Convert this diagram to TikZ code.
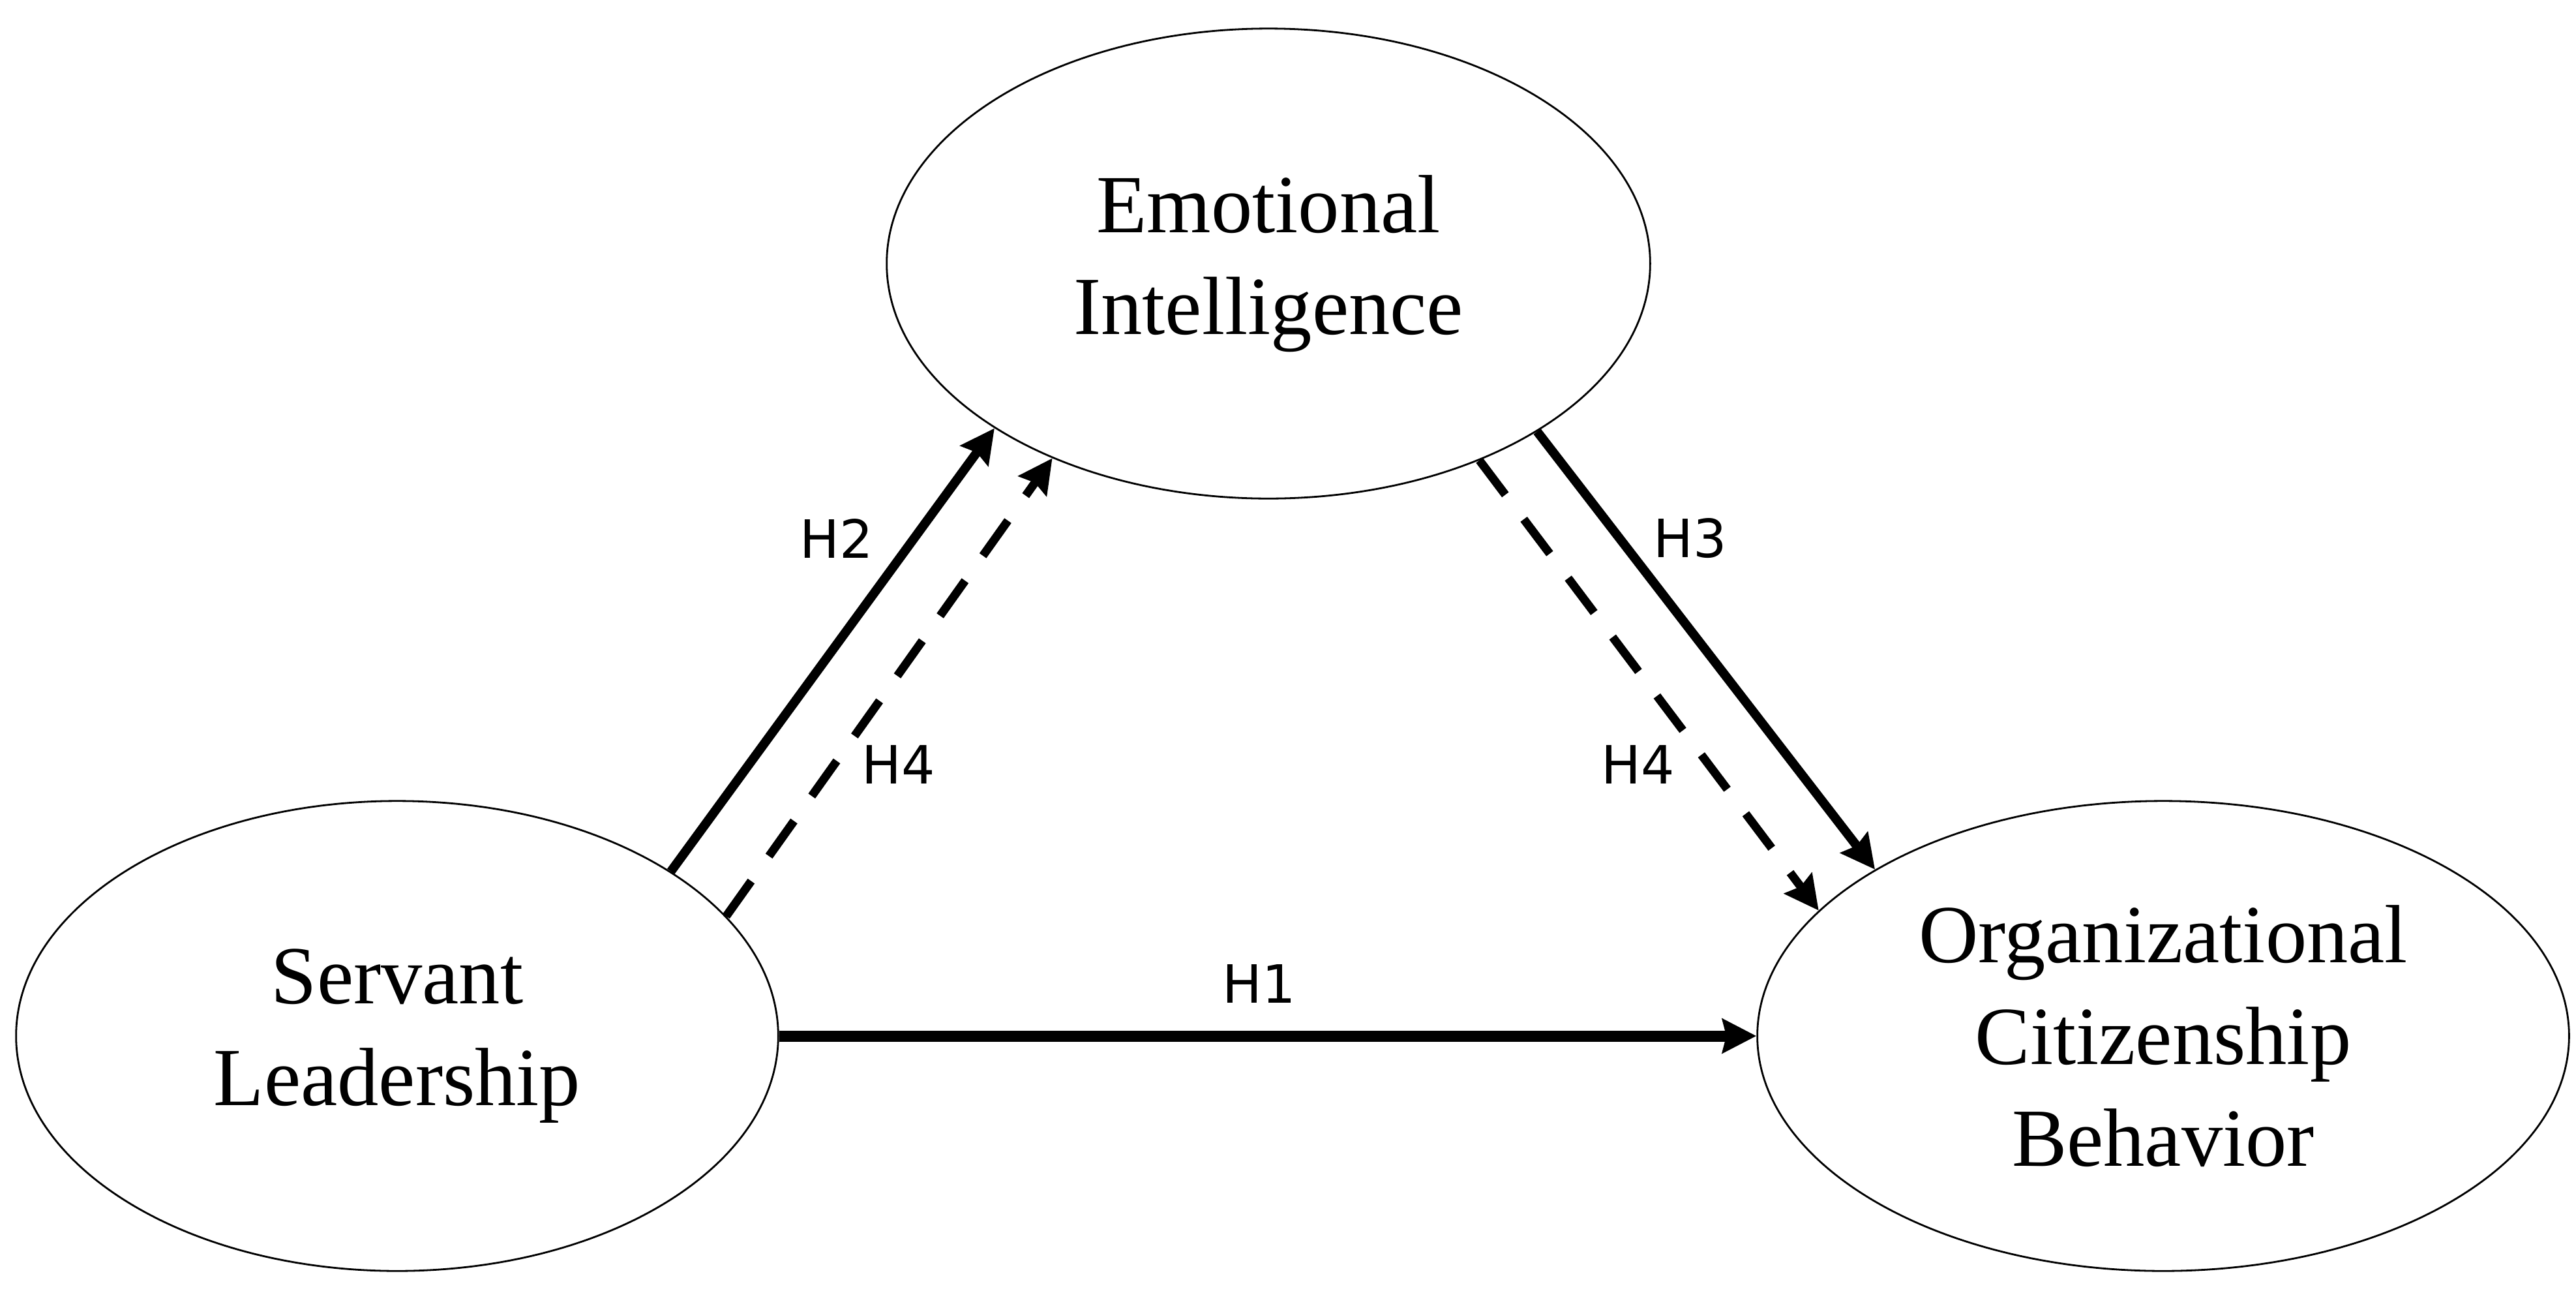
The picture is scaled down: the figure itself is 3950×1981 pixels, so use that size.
\documentclass[tikz,border=0pt]{standalone}
\usepackage{fontspec}
\setmainfont{Liberation Serif}
\newfontfamily\labelfont{DejaVu Sans}
\usetikzlibrary{arrows.meta,shapes.geometric}
\begin{document}
\begin{tikzpicture}[x=0.01cm,y=-0.01cm,
  latent/.style={ellipse, draw, line width=0.028cm, inner sep=0pt, align=center,
    minimum height=7.20cm, font=\fontsize{36}{44.4}\selectfont},
  solidpath/.style={line width=0.14cm, -{Stealth[length=0.52cm,width=0.52cm,inset=0.06cm]}},
  dashpath/.style={solidpath, line width=0.13cm, dash pattern=on 0.66cm off 0.47cm},
  hyp/.style={font=\labelfont\fontsize{23}{26}\selectfont, inner sep=0pt}]
\useasboundingbox (0,0) rectangle (3950,1981);
\node[latent, minimum width=11.70cm] (EI) at (1945,404) {Emotional\\Intelligence};
\node[latent, minimum width=11.68cm] (SL) at (609,1588) {Servant\\Leadership};
\node[latent, minimum width=12.44cm] (OCB) at (3317,1588) {Organizational\\Citizenship\\Behavior};
% paths
\draw[solidpath] (SL.31.4) -- (EI.211.6);
\draw[dashpath] (SL.20.7) -- (EI.222.1);
\draw[solidpath] (EI.328.7) -- (OCB.150.6);
\draw[dashpath] (EI.317.5) -- (OCB.160.35);
\draw[solidpath, line width=0.17cm] (SL.0) -- (OCB.180);
% labels
\node[hyp] (h2) at (1283,825) {H2};
\node[hyp] (h4a) at (1378,1172) {H4};
\node[hyp] (h3) at (2592,825) {H3};
\node[hyp] (h4b) at (2512,1172) {H4};
\node[hyp] (h1) at (1931,1508) {H1};
\end{tikzpicture}
\end{document}
